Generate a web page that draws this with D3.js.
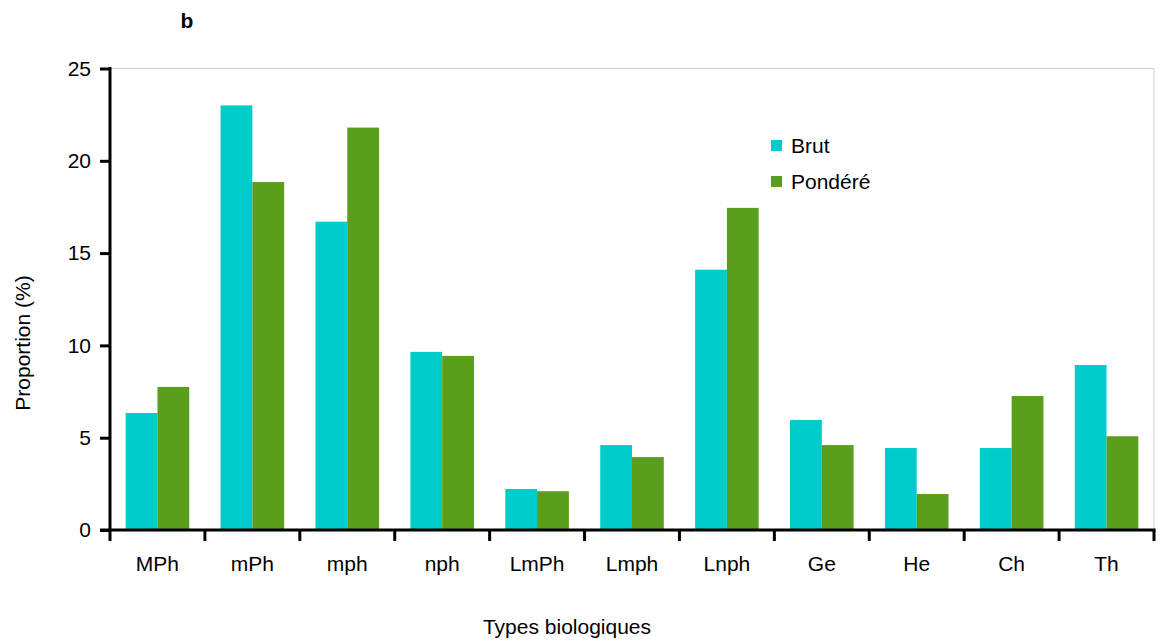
<!DOCTYPE html>
<html>
<head>
<meta charset="utf-8">
<script src="https://cdn.jsdelivr.net/npm/d3@7"></script>
<style>
  body { margin: 0; background: #fff; }
  svg { display: block; font-family: "Liberation Sans", Arial, sans-serif; }
</style>
</head>
<body>
<svg id="chart" width="1161" height="642"></svg>
<script>
// Life-form categories and their proportions (%)
const categories = ["MPh", "mPh", "mph", "nph", "LmPh", "Lmph", "Lnph", "Ge", "He", "Ch", "Th"];
const brut    = [6.34, 23.0, 16.7, 9.65, 2.22, 4.6, 14.1, 5.96, 4.44, 4.44, 8.94];
const pondere = [7.75, 18.85, 21.8, 9.43, 2.1, 3.95, 17.45, 4.6, 1.95, 7.26, 5.08];
const seriesNames = ["Brut", "Pondéré"];
const yTicks = [0, 5, 10, 15, 20, 25];

const colors = { "Brut": "#00CCCC", "Pondéré": "#5A9E1E" };
const FS = 21;

const svg = d3.select("#chart");
const margin = { left: 110, right: 7, top: 68.5, bottom: 112 };
const W = 1161, H = 642;
const plotW = W - margin.left - margin.right;
const plotH = H - margin.top - margin.bottom;

const g = svg.append("g").attr("transform", `translate(${margin.left},${margin.top})`);

const x = d3.scaleBand().domain(categories).range([0, plotW]).paddingInner(0.33).paddingOuter(0.165);
const xSub = d3.scaleBand().domain(seriesNames).range([0, x.bandwidth()]);
const y = d3.scaleLinear().domain([0, 25]).range([plotH, 0]);

// light frame on the top and right of the plot area
g.append("line").attr("x1", 0).attr("x2", plotW).attr("y1", 0).attr("y2", 0)
  .attr("stroke", "#cfcfcf").attr("stroke-width", 1);
g.append("line").attr("x1", plotW).attr("x2", plotW).attr("y1", 0).attr("y2", plotH)
  .attr("stroke", "#cfcfcf").attr("stroke-width", 1);

// bars
const rows = categories.map((c, i) => ({ cat: c, values: [
  { key: "Brut", value: brut[i] }, { key: "Pondéré", value: pondere[i] }] }));

const grp = g.selectAll("g.cat").data(rows).join("g")
  .attr("class", "cat")
  .attr("transform", d => `translate(${x(d.cat)},0)`);
grp.selectAll("rect").data(d => d.values).join("rect")
  .attr("x", d => xSub(d.key))
  .attr("width", xSub.bandwidth())
  .attr("y", d => y(d.value))
  .attr("height", d => y(0) - y(d.value))
  .attr("fill", d => colors[d.key]);

// y axis
const yAxis = g.append("g").call(d3.axisLeft(y).tickValues(yTicks).tickSize(10).tickPadding(9));
yAxis.select(".domain").attr("stroke", "#000").attr("stroke-width", 3)
  .attr("d", `M0,${plotH + 1.5}V${-1.5}`);
yAxis.selectAll(".tick line").attr("stroke", "#000").attr("stroke-width", 3);
yAxis.selectAll(".tick text").attr("font-size", FS).attr("fill", "#000");

// x axis: ticks at category boundaries
const xAxisG = g.append("g").attr("transform", `translate(0,${plotH})`);
xAxisG.append("line").attr("x1", -10).attr("x2", plotW + 1.5).attr("y1", 0).attr("y2", 0)
  .attr("stroke", "#000").attr("stroke-width", 3);
const bounds = d3.range(categories.length + 1).map(i => i * plotW / categories.length);
xAxisG.selectAll("line.b").data(bounds).join("line").attr("class", "b")
  .attr("x1", d => d).attr("x2", d => d).attr("y1", 0).attr("y2", 11)
  .attr("stroke", "#000").attr("stroke-width", 3);
xAxisG.selectAll("text.lab").data(categories).join("text").attr("class", "lab")
  .attr("x", d => x(d) + x.bandwidth() / 2).attr("y", 41)
  .attr("text-anchor", "middle").attr("font-size", FS).attr("fill", "#000").text(d => d);

// axis titles
svg.append("text").attr("x", 567).attr("y", 634).attr("text-anchor", "middle")
  .attr("font-size", FS).text("Types biologiques");
svg.append("text").attr("transform", "translate(30,343) rotate(-90)").attr("text-anchor", "middle")
  .attr("font-size", FS).text("Proportion (%)");

// panel letter
svg.append("text").attr("x", 187).attr("y", 28).attr("text-anchor", "middle")
  .attr("font-size", FS).attr("font-weight", "bold").text("b");

// legend
const legend = svg.append("g").attr("transform", "translate(771,140)");
seriesNames.forEach((s, i) => {
  const lg = legend.append("g").attr("transform", `translate(0,${i * 36})`);
  lg.append("rect").attr("width", 11).attr("height", 11).attr("fill", colors[s]);
  lg.append("text").attr("x", 20).attr("y", 13).attr("font-size", FS).text(s);
});
</script>
</body>
</html>
